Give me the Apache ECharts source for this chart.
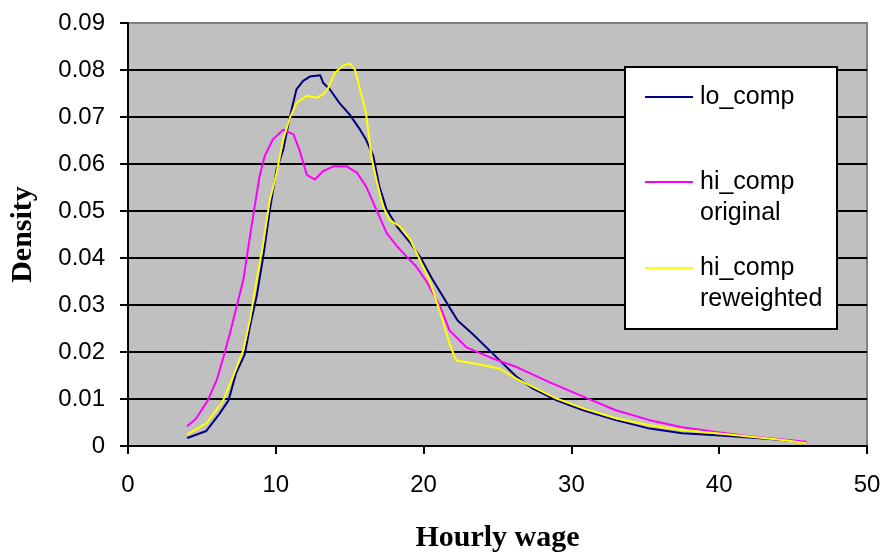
<!DOCTYPE html>
<html>
<head>
<meta charset="utf-8">
<script src="https://cdn.jsdelivr.net/npm/echarts@6/dist/echarts.min.js"></script>
<style>
html,body{margin:0;padding:0;background:#fff;}
#chart{width:884px;height:553px;}
</style>
</head>
<body>
<div id="chart"></div>
<script>
// ---- data ----
var seriesNames = ['lo_comp', 'hi_comp\noriginal', 'hi_comp\nreweighted'];
var seriesColors = ['#000080', '#FF00FF', '#FFFF00'];

var loComp = [
  [4.0,0.0017],[5.3,0.0032],[6.2,0.0069],[6.8,0.0097],[7.3,0.0154],[7.9,0.0195],
  [8.25,0.0254],[8.7,0.0318],[9.15,0.0403],[9.6,0.0503],[10.05,0.0588],[10.5,0.0630],
  [10.95,0.0700],[11.4,0.0759],[11.85,0.0777],[12.3,0.0786],[13.0,0.0789],[13.2,0.0773],
  [13.65,0.0759],[14.3,0.0730],[15.0,0.0705],[15.7,0.0673],[16.1,0.0652],[16.6,0.0617],
  [17.0,0.0553],[17.5,0.0503],[18.2,0.0467],[19.1,0.0432],[19.75,0.0403],[20.6,0.0355],
  [21.75,0.0295],[22.3,0.0267],[23.3,0.0239],[24.7,0.0196],[26.3,0.0147],[27.4,0.0122],
  [29.0,0.0097],[30.8,0.0076],[33.0,0.0055],[35.3,0.0037],[37.5,0.0027],[39.8,0.0023],
  [42.0,0.0018],[44.3,0.0013],[45.9,0.0007]
];

var hiCompOriginal = [
  [4.0,0.0042],[4.6,0.0058],[5.4,0.0097],[6.0,0.0140],[6.4,0.0183],[6.9,0.0240],
  [7.35,0.0297],[7.8,0.0353],[8.15,0.0425],[8.5,0.0496],[8.9,0.0574],[9.25,0.0617],
  [9.8,0.0652],[10.5,0.0673],[11.2,0.0663],[11.6,0.0630],[12.1,0.0577],[12.65,0.0567],
  [13.2,0.0585],[13.9,0.0595],[14.8,0.0595],[15.5,0.0581],[16.1,0.0553],[16.8,0.0503],
  [17.5,0.0453],[18.2,0.0425],[18.85,0.0403],[19.5,0.0382],[20.2,0.0350],[21.1,0.0298],
  [21.75,0.0246],[22.9,0.0210],[24.7,0.0186],[26.3,0.0168],[28.5,0.0136],[30.8,0.0105],
  [33.0,0.0076],[35.3,0.0055],[37.5,0.0040],[39.8,0.0030],[42.0,0.0021],[44.3,0.0014],
  [45.9,0.0009]
];

var hiCompReweighted = [
  [4.0,0.0024],[5.3,0.0048],[6.4,0.0094],[7.1,0.0147],[7.8,0.0204],[8.25,0.0268],
  [8.7,0.0353],[9.15,0.0432],[9.6,0.0524],[10.05,0.0580],[10.5,0.0652],[10.95,0.0698],
  [11.4,0.0730],[12.1,0.0745],[12.75,0.0741],[13.2,0.0748],[13.5,0.0759],[14.0,0.0794],
  [14.55,0.0809],[15.0,0.0814],[15.35,0.0801],[15.7,0.0759],[16.1,0.0709],[16.5,0.0610],
  [16.8,0.0567],[17.25,0.0510],[17.7,0.0481],[18.4,0.0467],[19.1,0.0439],[19.75,0.0396],
  [20.4,0.0353],[20.9,0.0305],[21.3,0.0267],[21.75,0.0218],[22.2,0.0182],[23.55,0.0175],
  [25.1,0.0165],[26.3,0.0143],[27.4,0.0126],[29.0,0.0101],[30.8,0.0080],[33.0,0.0059],
  [35.3,0.0044],[37.5,0.0034],[39.8,0.0027],[42.0,0.0020],[44.3,0.0013],[45.9,0.0006]
];

var xTicks = {min: 0, max: 50, interval: 10};
var yTicks = {min: 0, max: 0.09, interval: 0.01};
var xTitle = 'Hourly wage';
var yTitle = 'Density';

// ---- chart ----
var chart = echarts.init(document.getElementById('chart'), null, {renderer: 'canvas'});
var allData = [loComp, hiCompOriginal, hiCompReweighted];

var gridColors = [];
for (var i = 0; i < 10; i++) gridColors.push(i === 9 ? '#808080' : '#000000');

var legendGraphics = [{
  type: 'rect', left: 624, top: 66, z: 100,
  shape: {width: 212, height: 262},
  style: {fill: '#ffffff', stroke: '#000000', lineWidth: 2}
}];
var legendRows = [97, 182, 268];
seriesNames.forEach(function (name, i) {
  legendGraphics.push({
    type: 'line', z: 101,
    shape: {x1: 645, y1: legendRows[i], x2: 693, y2: legendRows[i]},
    style: {stroke: seriesColors[i], lineWidth: 2}
  });
  legendGraphics.push({
    type: 'text', left: 700, top: legendRows[i] - 15, z: 101,
    style: {text: name, fill: '#000', font: '25px "Liberation Sans", Arial, sans-serif', lineHeight: 31}
  });
});

var axisLabelStyle = {color: '#000', fontSize: 24, fontFamily: '"Liberation Sans", Arial, sans-serif'};
var nameStyle = {color: '#000', fontSize: 30, fontWeight: 'bold', fontFamily: '"Liberation Serif", "Times New Roman", serif'};

chart.setOption({
  animation: false,
  backgroundColor: '#ffffff',
  grid: {left: 128, right: 17, top: 23, bottom: 107, containLabel: false, outerBoundsMode: 'none',
         show: true, backgroundColor: '#C0C0C0', borderColor: '#808080', borderWidth: 2},
  xAxis: {
    type: 'value', min: xTicks.min, max: xTicks.max, interval: xTicks.interval,
    name: xTitle, nameLocation: 'middle', nameGap: 77, nameTextStyle: nameStyle,
    axisLine: {show: true, onZero: false, lineStyle: {color: '#000', width: 2}},
    axisTick: {show: true, inside: false, length: 8, lineStyle: {color: '#000', width: 2}},
    axisLabel: Object.assign({margin: 27}, axisLabelStyle),
    splitLine: {show: false}
  },
  yAxis: {
    type: 'value', min: yTicks.min, max: yTicks.max, interval: yTicks.interval,
    name: yTitle, nameLocation: 'middle', nameGap: 90, nameRotate: 90, nameTextStyle: nameStyle,
    axisLine: {show: true, onZero: false, lineStyle: {color: '#000', width: 2}},
    axisTick: {show: true, inside: false, length: 8, lineStyle: {color: '#000', width: 2}},
    axisLabel: Object.assign({margin: 23}, axisLabelStyle),
    splitLine: {show: true, lineStyle: {color: gridColors, width: 2}}
  },
  graphic: legendGraphics,
  series: allData.map(function (d, i) {
    return {
      type: 'line', name: seriesNames[i], data: d,
      showSymbol: false, smooth: false,
      lineStyle: {color: seriesColors[i], width: 2},
      itemStyle: {color: seriesColors[i]},
      z: 3 + i
    };
  })
});
</script>
</body>
</html>
